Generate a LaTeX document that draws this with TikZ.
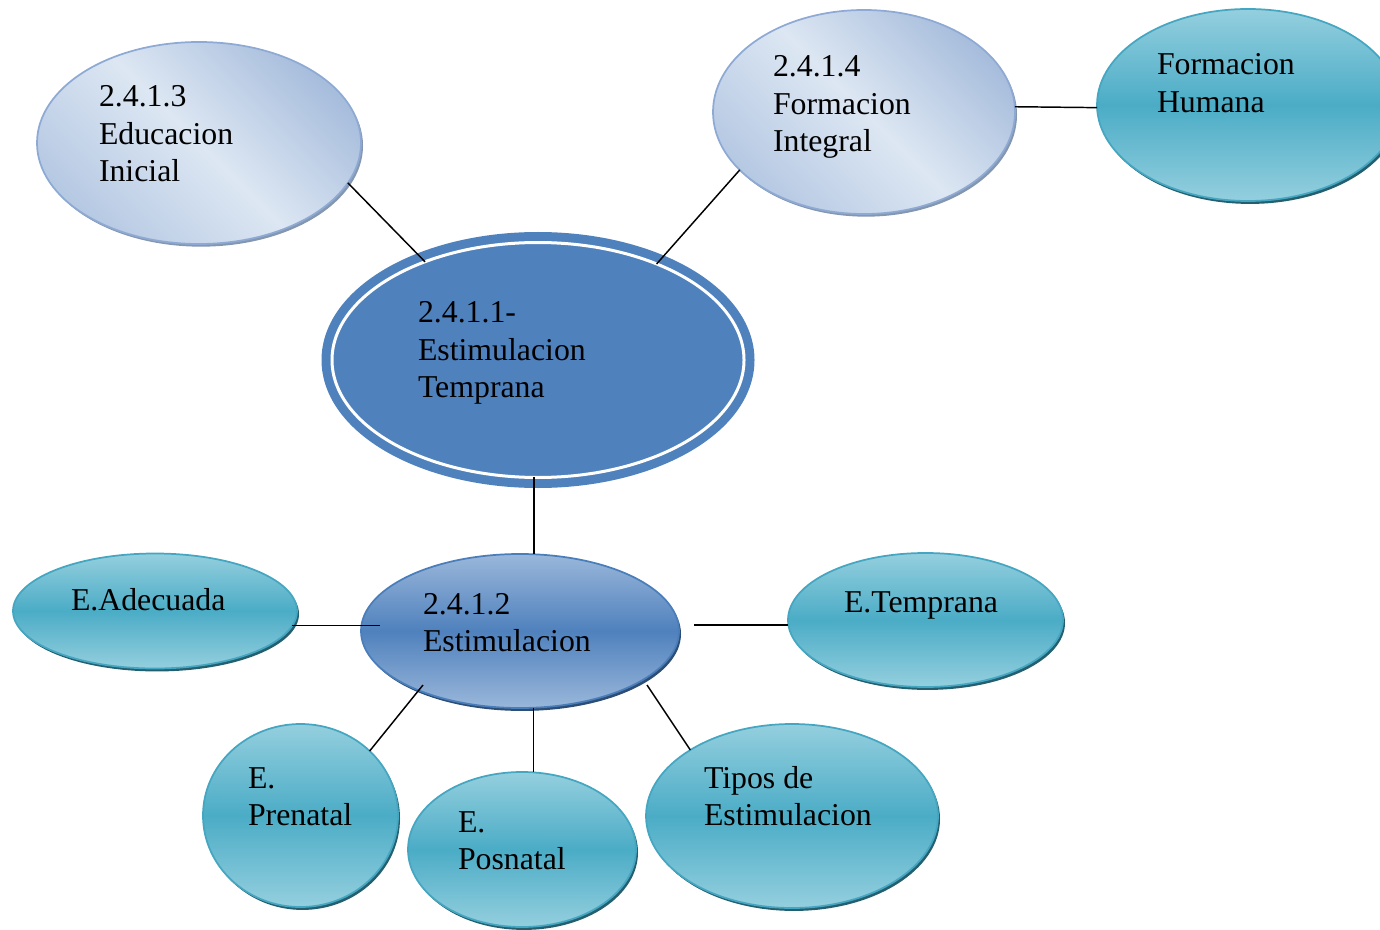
\documentclass[tikz,border=0pt]{standalone}
\usepackage{fontspec}
\setmainfont{Liberation Serif}
\usetikzlibrary{shapes.geometric,shadows,calc}
\definecolor{mainblue}{HTML}{4F81BD}
\definecolor{lbDark}{HTML}{A7BDDC}
\definecolor{lbLight}{HTML}{DDE7F3}
\definecolor{lbMid}{HTML}{B6C9E3}
\definecolor{lbBorder}{HTML}{8EAAD4}
\definecolor{lbShadow}{HTML}{8497B0}
\definecolor{tealLight}{HTML}{94CFDE}
\definecolor{tealDark}{HTML}{4BACC6}
\definecolor{tealBorder}{HTML}{45A6C1}
\definecolor{tealShadow}{HTML}{245F70}
\definecolor{estLight}{HTML}{9AB7DA}
\definecolor{estBorder}{HTML}{4A7EBB}
\definecolor{estShadow}{HTML}{2C4D75}
\tikzset{
  lightbub/.style={ellipse,draw=lbBorder,line width=1.3pt,
    left color=lbMid,right color=lbDark,middle color=lbLight,shading angle=135,
    drop shadow={shadow xshift=1.5pt,shadow yshift=-2pt,fill=lbShadow,opacity=1}},
  tealbub/.style={ellipse,draw=tealBorder,line width=1.3pt,
    top color=tealLight,bottom color=tealLight,middle color=tealDark,
    drop shadow={shadow xshift=1.5pt,shadow yshift=-2.2pt,fill=tealShadow,opacity=1}},
  estbub/.style={ellipse,draw=estBorder,line width=1.3pt,
    top color=estLight,bottom color=estLight,middle color=mainblue,
    drop shadow={shadow xshift=1.5pt,shadow yshift=-2.2pt,fill=estShadow,opacity=1}},
  mainbub/.style={ellipse,fill=mainblue,draw=mainblue,line width=6.75pt,
    double=white,double distance=2.25pt},
  lbl/.style={anchor=base west,text=black,font=\fontsize{23.85}{28.1}\selectfont},
  conn/.style={draw=black,line width=1.1pt}
}
\begin{document}
\begin{tikzpicture}[x=0.75pt,y=-0.75pt,every node/.style={inner sep=0pt,outer sep=0pt}]
\useasboundingbox (0,0) rectangle (1380,930);

% ellipses
\node[lightbub,minimum width=243pt,minimum height=151.5pt] (edu) at (199,143) {};
\node[lightbub,minimum width=226.5pt,minimum height=153pt] (fint) at (864,112) {};
\node[tealbub,minimum width=226.5pt,minimum height=144pt] (fhum) at (1248,105) {};
\node[mainbub,minimum width=309pt,minimum height=176.25pt] (central) at (538,360) {};
\node[estbub,minimum width=238.5pt,minimum height=115.5pt] (est) at (520,631) {};
\node[tealbub,minimum width=213pt,minimum height=86.25pt] (adec) at (155,611) {};
\node[tealbub,minimum width=206.25pt,minimum height=100.5pt] (temp) at (925.5,620) {};
\node[tealbub,minimum width=146.25pt,minimum height=137.25pt] (pre) at (300.5,815.5) {};
\node[tealbub,minimum width=171pt,minimum height=116.25pt] (pos) at (522,849.5) {};
\node[tealbub,minimum width=219pt,minimum height=138pt] (tip) at (792,816) {};

% texts
\node[lbl] (eduT) at (99,107) {\vtop{\hbox{2.4.1.3}\hbox{Educacion}\hbox{Inicial}}};
\node[lbl] (fintT) at (773,77) {\vtop{\hbox{2.4.1.4}\hbox{Formacion}\hbox{Integral}}};
\node[lbl] (fhumT) at (1157,75) {\vtop{\hbox{Formacion}\hbox{Humana}}};
\node[lbl] (centralT) at (418,323) {\vtop{\hbox{2.4.1.1-}\hbox{Estimulacion}\hbox{Temprana}}};
\node[lbl] (estT) at (423,614) {\vtop{\hbox{2.4.1.2}\hbox{Estimulacion}}};
\node[lbl] (adecT) at (71,610) {E.Adecuada};
\node[lbl] (tempT) at (844,612) {E.Temprana};
\node[lbl] (preT) at (248,788) {\vtop{\hbox{E.}\hbox{Prenatal}}};
\node[lbl] (posT) at (458,832) {\vtop{\hbox{E.}\hbox{Posnatal}}};
\node[lbl] (tipT) at (704,788) {\vtop{\hbox{Tipos de}\hbox{Estimulacion}}};

% inner connector ends
\coordinate (estL) at ($(est.center)+(-140,-6)$);
\coordinate (estR) at ($(est.center)+(174,-6.5)$);
\coordinate (estBL) at ($(est.center)+(-97,54)$);
\coordinate (estBR) at ($(est.center)+(127,54)$);

% connectors
\draw[conn] (edu.-15) -- (central.139.6);
\draw[conn] (fint.-155.3) -- (central.39.2);
\draw[conn] (fint.2.3) -- (fhum.181.5);
\draw[conn] (central.-92.4) -- (central.-92.4 |- est.80);
\draw[conn] (adec.-6) -- (adec.-6 -| estL);
\draw[conn] (estR |- temp.182) -- (temp.182);
\draw[conn] (estBL) -- (pre.43.7);
\draw[conn] (est.-80) -- (est.-80 |- pos.82);
\draw[conn] (estBR) -- (tip.147.4);
\end{tikzpicture}
\end{document}
